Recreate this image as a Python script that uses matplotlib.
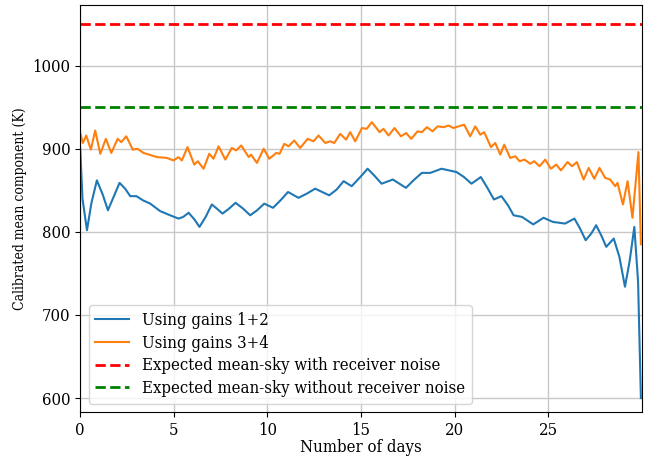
import matplotlib.pyplot as plt

plt.rcParams['font.family'] = 'DejaVu Serif'
plt.rcParams['font.stretch'] = 'condensed'

# calibrated mean component, gains 1+2
days_12 = [0.0, 0.12, 0.36, 0.6, 0.89, 1.2, 1.48, 1.8, 2.1, 2.4, 2.67, 3.0, 3.35, 3.74, 4.27,
           4.8, 5.25, 5.5, 5.79, 6.1, 6.37, 6.7, 7.03, 7.3, 7.6, 7.95, 8.3, 8.7, 9.08, 9.45,
           9.83, 10.3, 10.7, 11.1, 11.66, 12.1, 12.55, 13.3, 13.7, 14.07, 14.5, 14.96, 15.35,
           15.7, 16.1, 16.7, 17.4, 17.8, 18.25, 18.7, 19.3, 20.1, 20.5, 20.9, 21.4, 21.75,
           22.1, 22.5, 22.85, 23.15, 23.6, 24.2, 24.75, 25.25, 25.9, 26.4, 26.7, 27.0, 27.3,
           27.56, 27.85, 28.1, 28.5, 28.8, 29.1, 29.35, 29.6, 29.8, 29.95]
mean_12 = [900, 840, 802, 835, 862, 845, 826, 843, 859, 852, 843, 843, 838, 834, 825,
           820, 816, 818, 823, 815, 806, 818, 833, 828, 822, 828, 835, 828, 820, 826,
           834, 829, 838, 848, 841, 846, 852, 844, 851, 861, 855, 866, 876,
           868, 858, 863, 853, 862, 871, 871, 876, 872, 866, 858, 866, 853,
           839, 843, 832, 820, 818, 809, 817, 812, 810, 816, 804, 790, 798,
           808, 795, 782, 792, 770, 734, 765, 806, 740, 600]

# calibrated mean component, gains 3+4
days_34 = [0.0, 0.14, 0.32, 0.57, 0.8, 1.07, 1.37, 1.66, 2.0, 2.19, 2.46, 2.81, 3.06, 3.38,
           4.1, 4.63, 4.98, 5.25, 5.43, 5.73, 6.09, 6.28, 6.59, 6.89, 7.12, 7.39, 7.75,
           8.1, 8.33, 8.6, 9.0, 9.12, 9.44, 9.8, 10.1, 10.47, 10.65, 10.9, 11.13, 11.43,
           11.75, 12.15, 12.46, 12.73, 13.09, 13.35, 13.57, 13.89, 14.2, 14.42, 14.69,
           15.05, 15.3, 15.58, 15.99, 16.2, 16.47, 16.79, 17.13, 17.41, 17.68, 18.02,
           18.25, 18.52, 18.82, 19.09, 19.41, 19.67, 19.94, 20.21, 20.51, 20.83, 21.1,
           21.37, 21.58, 21.94, 22.17, 22.44, 22.65, 22.97, 23.24, 23.47, 23.73, 24.04,
           24.25, 24.54, 24.84, 25.14, 25.43, 25.68, 26.03, 26.27, 26.53, 26.89, 27.16,
           27.46, 27.74, 28.04, 28.31, 28.58, 28.7, 28.99, 29.24, 29.5, 29.82, 29.95]
mean_34 = [919, 907, 916, 899, 922, 894, 912, 895, 912, 908, 915, 899, 900, 895,
           890, 889, 886, 890, 886, 902, 881, 885, 876, 894, 888, 903, 887,
           901, 898, 904, 890, 893, 883, 900, 888, 895, 894, 906, 903, 910,
           901, 912, 909, 916, 907, 909, 907, 918, 911, 920, 909,
           925, 924, 932, 920, 924, 916, 925, 915, 919, 912, 921,
           920, 926, 921, 927, 926, 928, 925, 927, 929, 915, 927,
           917, 920, 902, 907, 893, 905, 889, 891, 885, 887, 882,
           885, 879, 887, 876, 881, 874, 884, 879, 884, 863, 877,
           864, 877, 865, 863, 855, 859, 833, 861, 817, 896, 785]

expected_with_noise = 1050
expected_without_noise = 950

fig, ax = plt.subplots(figsize=(6.47, 4.57), dpi=100)
fig.subplots_adjust(left=0.124, right=0.992, bottom=0.098, top=0.989)

ax.plot(days_12, mean_12, color='#1f77b4', lw=1.5, label='Using gains 1+2')
ax.plot(days_34, mean_34, color='#ff7f0e', lw=1.5, label='Using gains 3+4')
ax.axhline(expected_with_noise, color='red', ls='--', lw=2,
           label='Expected mean-sky with receiver noise')
ax.axhline(expected_without_noise, color='green', ls='--', lw=2,
           label='Expected mean-sky without receiver noise')

ax.set_xlim(0, 30)
ax.set_ylim(583, 1073)
ax.set_xticks([0, 5, 10, 15, 20, 25])
ax.set_yticks([600, 700, 800, 900, 1000])
ax.tick_params(labelsize=12)
ax.grid(True, color='#c8c8c8', lw=1)
ax.set_xlabel('Number of days', fontsize=12, labelpad=0)
ax.set_ylabel('Calibrated mean component (K)', fontsize=10)
ax.legend(loc='lower left', fontsize=12, borderaxespad=0.5, labelspacing=0.35)

plt.savefig('out.png', dpi=100)
